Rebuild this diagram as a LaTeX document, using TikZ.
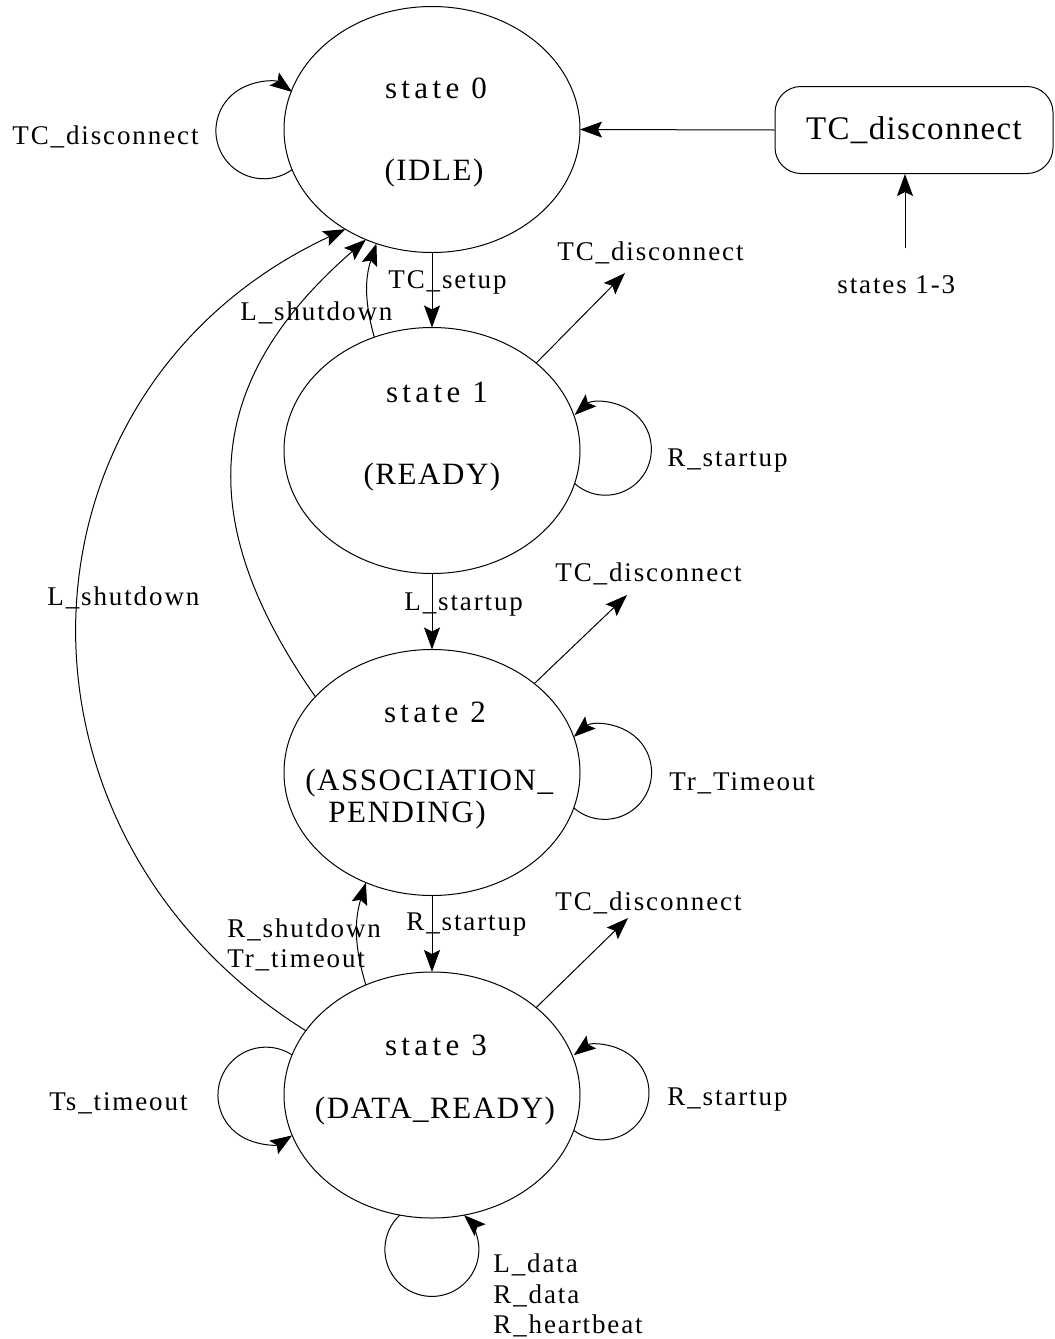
\documentclass[tikz,border=0pt]{standalone}
\usepackage{fontspec}
\setmainfont{Liberation Serif}
\newfontfamily\lblfont[LetterSpace=7]{Liberation Serif}
\newfontfamily\wdfont[LetterSpace=14]{Liberation Serif}
\newfontfamily\capfont[LetterSpace=5]{Liberation Serif}
\newfontfamily\boxfont[LetterSpace=4]{Liberation Serif}
\usetikzlibrary{positioning,arrows.meta,shapes.geometric}
\tikzset{
  stnode/.style ={ellipse, draw, line width=0.5pt, minimum width=148pt,
                  minimum height=123pt, inner sep=0pt, outer sep=0pt},
  stname/.style ={font=\wdfont\fontsize{15.5}{18}\selectfont, inner sep=0pt, anchor=base},
  stmode/.style ={font=\capfont\fontsize{15.5}{18}\selectfont, inner sep=0pt, anchor=base},
  lbl/.style    ={font=\lblfont\fontsize{13.5}{16}\selectfont, inner sep=0pt, anchor=base west},
  evbox/.style  ={draw, line width=0.5pt, rounded corners=13pt, minimum width=139pt,
                  minimum height=43.5pt, inner sep=0pt, font=\boxfont\fontsize{16.5}{19}\selectfont},
  ar/.style     ={-{Stealth[length=11pt,width=8pt,inset=2pt]}, line width=0.5pt},
}
\begin{document}
\begin{tikzpicture}[x=0.5pt,y=0.5pt]
\useasboundingbox (0,0) rectangle (1055,-1339);
% states
\node[stnode] (s0) at (432,-129.5) {};
\node[stnode] (s1) at (432,-450.5) {};
\node[stnode] (s2) at (432,-772.5) {};
\node[stnode] (s3) at (432,-1095) {};
\node[stname] (s0a) at (436,-98) {state 0};
\node[stmode] (s0b) at (434,-180) {(IDLE)};
\node[stname] (s1a) at (437,-402) {state 1};
\node[stmode] (s1b) at (432,-484) {(READY)};
\node[stname] (s2a) at (435,-722) {state 2};
\node[stmode,anchor=base west] (s2b) at (305,-790) {(ASSOCIATION\_};
\node[stmode,anchor=base west] (s2c) at (328,-822) {PENDING)};
\node[stname] (s3a) at (436,-1055) {state 3};
\node[stmode] (s3b) at (435,-1118) {(DATA\_READY)};
% disconnect event box
\node[evbox] (box) at (914,-130) {TC\_disconnect};
\node[lbl] (st) at (837,-293) {states 1-3};
\coordinate (sf) at (905,-248);
\draw[ar] (sf) -- (sf |- box.south);
\draw[ar] (box.west) -- (s0.east);
% main chain
\draw[ar] (s0.south) -- (s1.north);
\draw[ar] (s1.south) -- (s2.north);
\draw[ar] (s2.south) -- (s3.north);
\node[lbl] (l01) at (388,-288) {TC\_setup};
\node[lbl] (l12) at (404,-610) {L\_startup};
\node[lbl] (l23) at (406,-930) {R\_startup};
% back to idle
\draw[ar] (s1.117) to[bend left=17] (s0.-116);
\draw[ar] (s2.147) to[out=125,in=221,looseness=1.2] (s0.-121);
\draw[ar] (s3.153) to[out=148,in=205,looseness=1.2] (s0.-131);
\draw[ar] (s3.121) to[bend left=17] (s2.-121);
\node[lbl] (l10) at (240,-320) {L\_shutdown};
\node[lbl] (l30) at (47,-605) {L\_shutdown};
\node[lbl] (l32a) at (227,-937) {R\_shutdown};
\node[lbl] (l32b) at (227,-967) {Tr\_timeout};
% disconnect out of states 1-3
\coordinate (d1) at (625,-273);
\coordinate (d2) at (627,-595);
\coordinate (d3) at (628,-918);
\draw[ar] (s1.40) -- (d1);
\draw[ar] (s2.41) -- (d2);
\draw[ar] (s3.40) -- (d3);
\node[lbl] (t1) at (557,-260) {TC\_disconnect};
\node[lbl] (t2) at (555,-581) {TC\_disconnect};
\node[lbl] (t3) at (555,-910) {TC\_disconnect};
% self loops
\draw[ar] (s0.196) arc[start angle=-54, end angle=-306, radius=48];
\draw[ar] (s1.-13) arc[start angle=228, end angle=492, radius=46];
\draw[ar] (s2.-14) arc[start angle=229, end angle=491, radius=47];
\draw[ar] (s3.-14) arc[start angle=233, end angle=487, radius=47];
\draw[ar] (s3.164) arc[start angle=57, end angle=303, radius=48];
\draw[ar] (s3.-105) arc[start angle=133, end angle=407, radius=47];
\node[lbl] (ls0) at (12,-144) {TC\_disconnect};
\node[lbl] (ls1) at (667,-466) {R\_startup};
\node[lbl] (ls2) at (669,-790) {Tr\_Timeout};
\node[lbl] (ls3) at (667,-1105) {R\_startup};
\node[lbl] (ls4) at (49,-1110) {Ts\_timeout};
\foreach \y/\txt in {1272/L\_data, 1303/R\_data, 1333/R\_heartbeat}
  \node[lbl] (ev\y) at (493,-\y) {\txt};
\end{tikzpicture}
\end{document}
